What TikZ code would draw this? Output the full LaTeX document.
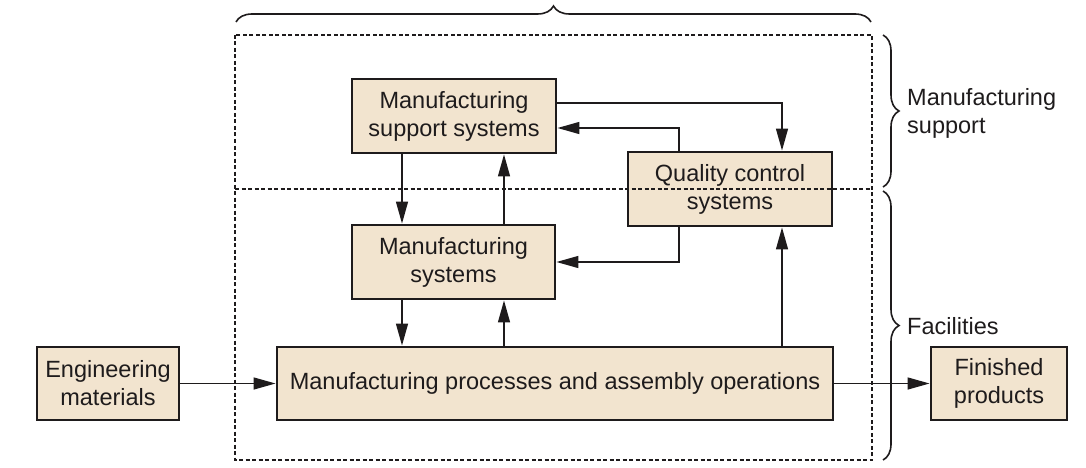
\documentclass[tikz,border=0pt]{standalone}
\usepackage{fontspec}
\setmainfont{Liberation Sans}
\usetikzlibrary{arrows.meta,decorations.pathreplacing,calc}
\definecolor{boxfill}{RGB}{242,228,207}
\definecolor{ink}{RGB}{30,27,28}
\tikzset{
  blk/.style={draw=ink, line width=2.9pt, fill=boxfill, align=center, text=ink,
    font=\fontsize{23.5}{28}\selectfont, inner sep=0pt},
  arr/.style={draw=ink, line width=1.4pt, -{Triangle[length=22pt,width=12pt]}},
  frame/.style={draw=ink, line width=1.1pt, dash pattern=on 4pt off 2.5pt},
  brc/.style={draw=ink, line width=1.6pt, decorate, decoration={brace, amplitude=16pt}},
  lbl/.style={text=ink, font=\fontsize{23.5}{28}\selectfont, align=left, anchor=west, inner sep=0pt}
}
\begin{document}
\begin{tikzpicture}[x=1pt, y=-1pt]
\useasboundingbox (0,0) rectangle (1086,468);
% frame
\draw[frame] (235,35) rectangle (872,460);
% boxes
\node[blk, minimum width=204pt, minimum height=74pt] (mss) at (454,116) {Manufacturing\\support systems};
\node[blk, minimum width=203pt, minimum height=74pt] (ms) at (453.5,262) {Manufacturing\\systems};
\node[blk, minimum width=204pt, minimum height=74pt] (qcs) at (730,189) {Quality control\\systems};
\node[blk, minimum width=142pt, minimum height=73pt] (em) at (108,383.5) {Engineering\\materials};
\node[blk, minimum width=556pt, minimum height=73pt] (mp) at (555,383.5) {Manufacturing processes and assembly operations};
\node[blk, minimum width=136pt, minimum height=73pt] (fp) at (999,383.5) {Finished\\products};
% divider drawn over the boxes
\draw[frame] (235,189) -- (872,189);
% connectors
\draw[arr] ([yshift=13pt]mss.east) -| ([xshift=52pt]qcs.north);
\draw[arr] ([xshift=-51pt]qcs.north) |- ([yshift=-12pt]mss.east);
\draw[arr] ([xshift=-51pt]qcs.south) |- (ms.east);
\draw[arr] ([xshift=52pt]qcs.south |- mp.north) -- ([xshift=52pt]qcs.south);
\draw[arr] ([xshift=-52pt]mss.south) -- ([xshift=-52pt]mss.south |- ms.north);
\draw[arr] ([xshift=50pt]mss.south |- ms.north) -- ([xshift=50pt]mss.south);
\draw[arr] ([xshift=-51.5pt]ms.south) -- ([xshift=-51.5pt]ms.south |- mp.north);
\draw[arr] ([xshift=50.5pt]ms.south |- mp.north) -- ([xshift=50.5pt]ms.south);
\draw[arr] (em.east) -- (mp.west);
\draw[arr] (mp.east) -- (fp.west);
% braces
\draw[brc] (236,22) -- (871,22);
\draw[brc] (883,35) -- (883,187);
\draw[brc] (883,191) -- (883,460);
% labels
\node[lbl] (ls) at (907,113) {Manufacturing\\support};
\node[lbl] (lf) at (907,326) {Facilities};
\end{tikzpicture}
\end{document}
